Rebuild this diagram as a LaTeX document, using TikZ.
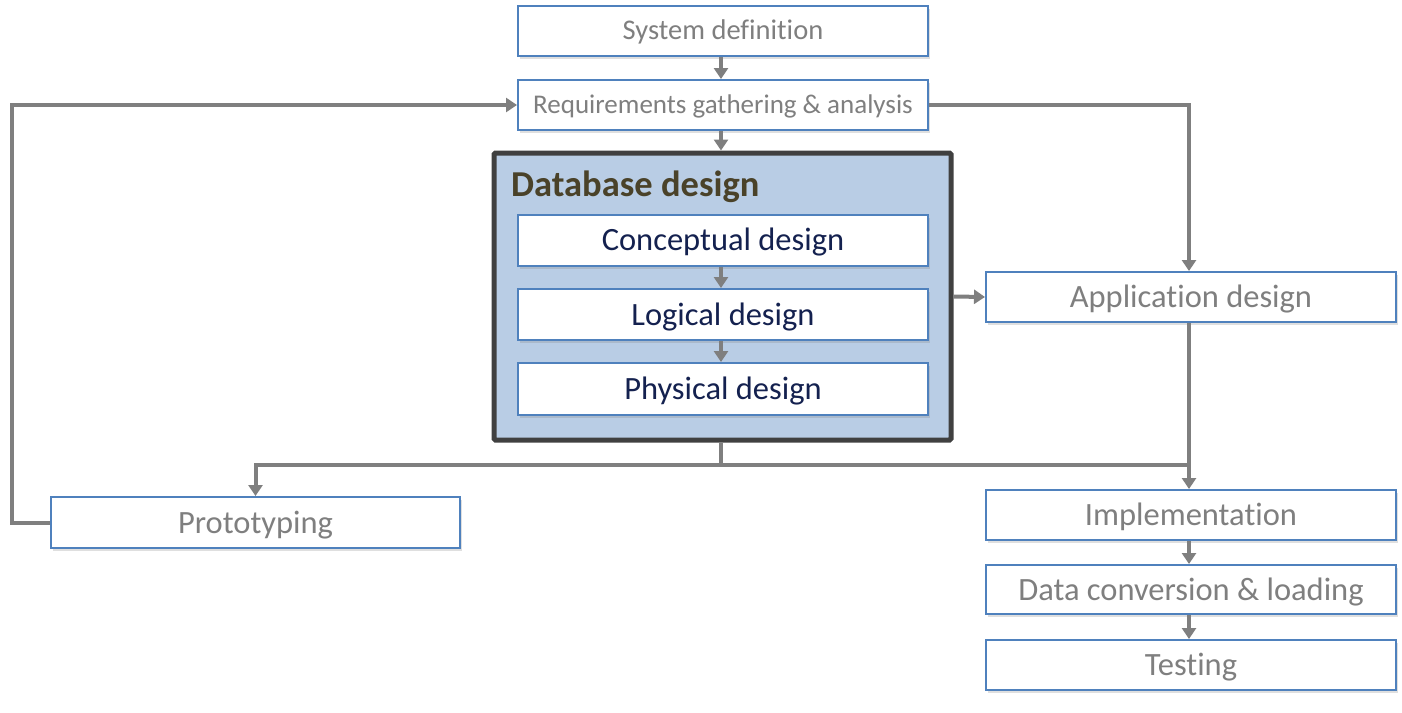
\documentclass[tikz,border=0pt]{standalone}
\usepackage{fontspec}
\setmainfont{Carlito}[Ligatures=NoCommon]
\usetikzlibrary{arrows.meta,shadows,calc}
\definecolor{boxblue}{HTML}{4F81BD}
\definecolor{linegray}{HTML}{7F7F7F}
\definecolor{txtgray}{HTML}{7F7F7F}
\definecolor{navy}{HTML}{14214F}
\definecolor{dbfill}{HTML}{B9CDE5}
\definecolor{dbborder}{HTML}{404040}
\definecolor{olive}{HTML}{4A4229}
\tikzset{
  procbox/.style={draw=boxblue, line width=2pt, fill=white, minimum width=410pt, minimum height=50pt,
    inner sep=0pt, text height=24pt, text depth=3pt,
    drop shadow={opacity=0.25, shadow xshift=2pt, shadow yshift=-3pt}},
  graytext/.style={text=txtgray, font=\fontsize{32.5}{38}\selectfont},
  navytext/.style={text=navy, font=\fontsize{32.5}{38}\selectfont},
  dbbox/.style={draw=dbborder, line width=5pt, fill=dbfill, rounded corners=1.5pt, inner sep=0pt},
  conn/.style={draw=linegray, line width=4pt},
  arr/.style={conn, -{Triangle[width=14pt,length=11pt]}},
}
\begin{document}
\begin{tikzpicture}[x=1pt,y=-1pt]
\useasboundingbox (0,0) rectangle (1402,712);
% Database design container
\node[dbbox, minimum width=457pt, minimum height=287pt] (db) at (722.5,296.5) {};
\node[anchor=base west, text=olive, font=\fontsize{36.5}{42}\selectfont\bfseries, inner sep=0pt] (dbtitle) at (511,196) {Database design};
% boxes
\node[procbox, graytext, font=\fontsize{28.5}{34}\selectfont, text height=21pt, text depth=2.6pt] (sys) at (723,30.5) {System definition};
\node[procbox, graytext, font=\fontsize{27}{32}\selectfont, text height=20pt, text depth=2.6pt] (req) at (723,105) {Requirements gathering \& analysis};
\node[procbox, navytext, minimum height=51pt] (con) at (723,240) {Conceptual design};
\node[procbox, navytext, minimum height=51pt] (log) at (723,314.5) {Logical design};
\node[procbox, navytext, minimum height=52pt] (phy) at (723,389) {Physical design};
\node[procbox, graytext] (app) at (1191,297) {Application design};
\node[procbox, graytext, minimum width=409pt, minimum height=51pt] (pro) at (255.5,522.5) {Prototyping};
\node[procbox, graytext] (imp) at (1191,515) {Implementation};
\node[procbox, graytext, minimum height=49pt] (dat) at (1191,589.5) {Data conversion \& loading};
\node[procbox, graytext] (tst) at (1191,665) {Testing};
% helper coordinates
\coordinate (lx) at (12,0);
\coordinate (jn) at (721,465);
% connectors
\draw[arr] (sys.south -| 721,0) -- (req.north -| 721,0);
\draw[arr] (req.south -| 721,0) -- (db.north -| 721,0);
\draw[arr] (pro.west) -- (pro.west -| lx) |- (req.west);
\draw[arr] (req.east) -| (app.north -| 1189,0);
\draw[arr] (db.east) -- (app.west);
\draw[arr] (con.south -| 721,0) -- (log.north -| 721,0);
\draw[arr] (log.south -| 721,0) -- (phy.north -| 721,0);
\draw[conn] (db.south -| jn) -- (jn);
\draw[arr] (jn) -| (pro.north);
\draw[conn] (jn) -- (jn -| 1189,0);
\draw[arr] (app.south -| 1189,0) -- (imp.north -| 1189,0);
\draw[arr] (imp.south -| 1189,0) -- (dat.north -| 1189,0);
\draw[arr] (dat.south -| 1189,0) -- (tst.north -| 1189,0);
\end{tikzpicture}
\end{document}
